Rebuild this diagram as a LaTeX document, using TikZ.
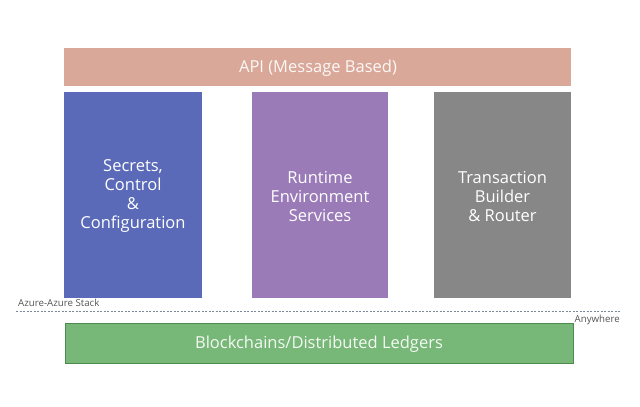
\documentclass[tikz,border=0pt]{standalone}
\usepackage{fontspec}
\setmainfont{Open Sans}
\definecolor{apic}{HTML}{D9A898}
\definecolor{bluec}{HTML}{5A6AB8}
\definecolor{purpc}{HTML}{9A7BB8}
\definecolor{grayc}{HTML}{878787}
\definecolor{greenc}{HTML}{77B777}
\definecolor{greenb}{HTML}{4E8A4E}
\definecolor{dashc}{HTML}{7A8898}
\definecolor{labc}{HTML}{555555}
\tikzset{
  blockbox/.style={draw=none, inner sep=0pt, text=white, align=center,
    font=\fontsize{16.5}{19}\selectfont},
  lab/.style={inner sep=0pt, text=labc, font=\fontsize{9.7}{11}\selectfont}
}
\begin{document}
\begin{tikzpicture}[x=1pt,y=-1pt]
\useasboundingbox (0,0) rectangle (640,407);
\fill[apic] (64,48) rectangle (571,86);
\node[blockbox, text=white!92!apic, font=\fontsize{16.5}{19}\selectfont] (api) at (318,68.5) {API (Message Based)};
\fill[bluec] (64,92) rectangle (202,298);
\node[blockbox] (sec) at (133,196.5) {Secrets,\\Control\\\&\\Configuration};
\fill[purpc] (252,92) rectangle (388,298);
\node[blockbox] (rt) at (320,196.5) {Runtime\\Environment\\Services};
\fill[grayc] (434,92) rectangle (571,298);
\node[blockbox] (tx) at (502.5,196.5) {Transaction\\Builder\\\& Router};
\draw[dashc, dashed, dash pattern=on 2pt off 1.5pt, line width=0.7pt] (16,311) -- (621,311);
\node[lab, anchor=west] (az) at (18,303) {Azure-Azure Stack};
\node[lab, anchor=east] (any) at (620,320) {Anywhere};
\draw[greenb, fill=greenc, line width=0.8pt] (65,323) rectangle (573,363);
\node[blockbox, text=white!92!greenc, font=\fontsize{16.5}{19}\selectfont] (bc) at (319,344.5) {Blockchains/Distributed Ledgers};
\end{tikzpicture}
\end{document}
